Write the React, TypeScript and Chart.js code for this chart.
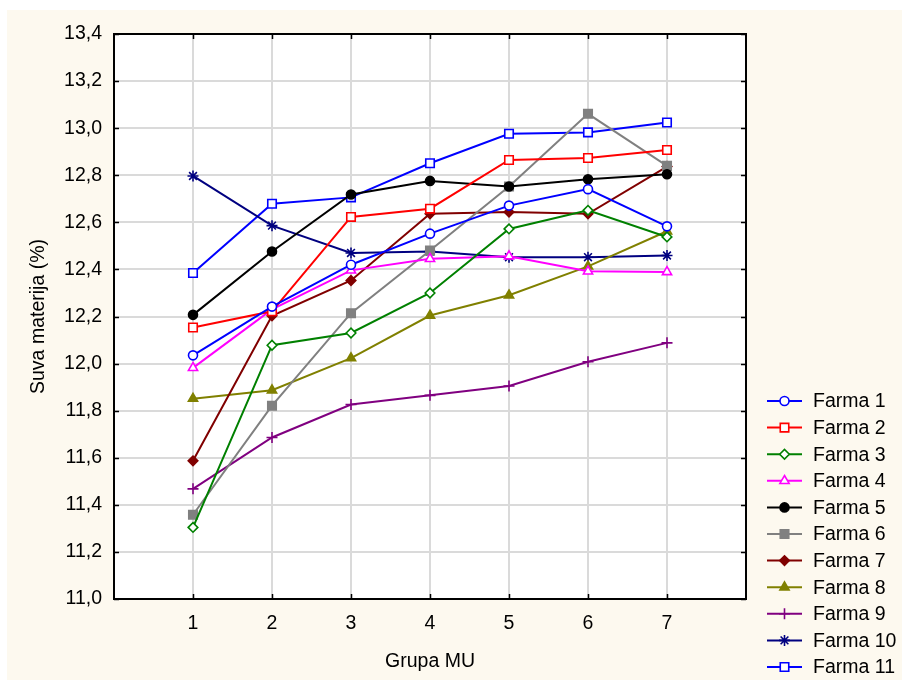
import React, { useEffect, useRef } from "react";
import { Chart, registerables } from "chart.js";
import { drawPoint } from "chart.js/helpers";

Chart.register(...registerables);

const groups = [1, 2, 3, 4, 5, 6, 7];
const farmNames = [
  "Farma 1", "Farma 2", "Farma 3", "Farma 4", "Farma 5", "Farma 6",
  "Farma 7", "Farma 8", "Farma 9", "Farma 10", "Farma 11",
];
const farma1 = [12.035, 12.242, 12.42, 12.552, 12.671, 12.741, 12.583];
const farma2 = [12.153, 12.222, 12.623, 12.658, 12.865, 12.873, 12.907];
const farma3 = [11.304, 12.078, 12.13, 12.3, 12.572, 12.651, 12.538];
const farma4 = [11.982, 12.23, 12.396, 12.445, 12.456, 12.392, 12.389];
const farma5 = [12.207, 12.476, 12.718, 12.776, 12.752, 12.783, 12.804];
const farma6 = [11.358, 11.821, 12.214, 12.48, 12.752, 13.061, 12.84];
const farma7 = [11.587, 12.203, 12.353, 12.636, 12.644, 12.636, 12.837];
const farma8 = [11.851, 11.887, 12.023, 12.204, 12.29, 12.413, 12.562];
const farma9 = [11.468, 11.686, 11.826, 11.865, 11.905, 12.008, 12.088];
const farma10 = [12.797, 12.586, 12.47, 12.476, 12.452, 12.452, 12.459];
const farma11 = [12.385, 12.679, 12.706, 12.851, 12.976, 12.982, 13.024];
const seriesValues = [farma1, farma2, farma3, farma4, farma5, farma6, farma7, farma8, farma9, farma10, farma11];

const styles = [
  { color: "#0000ff", point: "circle", r: 4.5, fill: "#ffffff" },
  { color: "#ff0000", point: "rect", r: 6, fill: "#ffffff" },
  { color: "#008000", point: "rectRot", r: 4.8, fill: "#ffffff" },
  { color: "#ff00ff", point: "triangle", r: 5.3, fill: "#ffffff" },
  { color: "#000000", point: "circle", r: 4.5, fill: "#000000" },
  { color: "#808080", point: "rect", r: 6, fill: "#808080" },
  { color: "#800000", point: "rectRot", r: 4.8, fill: "#800000" },
  { color: "#808000", point: "triangle", r: 5.3, fill: "#808000" },
  { color: "#800080", point: "cross", r: 5.5, fill: "#800080" },
  { color: "#000080", point: "star", r: 5.5, fill: "#000080" },
  { color: "#0000ff", point: "rect", r: 6, fill: "#ffffff" },
];

const FONT = "'Liberation Sans', Arial, sans-serif";

const backgroundPlugin = {
  id: "bgPlugin",
  beforeDraw(chart: any) {
    const { ctx, chartArea } = chart;
    ctx.save();
    ctx.fillStyle = "#ffffff";
    ctx.fillRect(0, 0, chart.width, chart.height);
    ctx.fillStyle = "#fdf9ef";
    ctx.fillRect(7, 10, chart.width - 7, chart.height - 10);
    ctx.fillStyle = "#ffffff";
    ctx.fillRect(chartArea.left, chartArea.top, chartArea.right - chartArea.left, chartArea.bottom - chartArea.top);
    ctx.restore();
  },
  afterDraw(chart: any) {
    const { ctx, chartArea } = chart;
    const { left, right, top, bottom } = chartArea;
    const xs = chart.scales.x;
    const ys = chart.scales.y;
    ctx.save();
    ctx.strokeStyle = "#000000";
    ctx.lineWidth = 1.5;
    ctx.beginPath();
    xs.ticks.forEach((t: any) => {
      const px = Math.round(xs.getPixelForValue(t.value)) + 0.5;
      ctx.moveTo(px, bottom);
      ctx.lineTo(px, bottom - 5);
      ctx.moveTo(px, top);
      ctx.lineTo(px, top + 5);
    });
    ys.ticks.forEach((t: any) => {
      const py = Math.round(ys.getPixelForValue(t.value)) + 0.5;
      ctx.moveTo(left, py);
      ctx.lineTo(left + 5, py);
      ctx.moveTo(right, py);
      ctx.lineTo(right - 5, py);
    });
    ctx.stroke();
    ctx.lineWidth = 2;
    ctx.strokeRect(left, top, right - left, bottom - top);

    // legend
    const lx0 = 767;
    const lx1 = 802;
    const ty = 401;
    const step = 26.6;
    ctx.font = `19.5px ${FONT}`;
    ctx.textBaseline = "middle";
    ctx.textAlign = "left";
    chart.data.datasets.forEach((ds: any, i: number) => {
      const y = ty + i * step;
      ctx.strokeStyle = ds.borderColor;
      ctx.lineWidth = ds.borderWidth;
      ctx.beginPath();
      ctx.moveTo(lx0, y);
      ctx.lineTo(lx1, y);
      ctx.stroke();
      ctx.fillStyle = ds.pointBackgroundColor;
      ctx.strokeStyle = ds.pointBorderColor;
      ctx.lineWidth = ds.pointBorderWidth;
      drawPoint(ctx, { pointStyle: ds.pointStyle, radius: ds.pointRadius, rotation: 0, borderWidth: ds.pointBorderWidth }, (lx0 + lx1) / 2, y);
      ctx.fillStyle = "#000000";
      ctx.fillText(ds.label, 813, y + 1);
    });
    ctx.restore();
  },
};

export default function App() {
  const canvasRef = useRef<HTMLCanvasElement | null>(null);

  useEffect(() => {
    if (!canvasRef.current) return;
    const datasets = seriesValues.map((vals, i) => ({
      label: farmNames[i],
      data: groups.map((g, j) => ({ x: g, y: vals[j] })),
      borderColor: styles[i].color,
      borderWidth: 2,
      pointStyle: styles[i].point,
      pointRadius: styles[i].r,
      pointBackgroundColor: styles[i].fill,
      pointBorderColor: styles[i].color,
      pointBorderWidth: 1.6,
      tension: 0,
      fill: false,
    }));
    const chart = new Chart(canvasRef.current, {
      type: "line",
      data: { datasets },
      plugins: [backgroundPlugin],
      options: {
        animation: false,
        responsive: false,
        devicePixelRatio: 1,
        layout: { padding: { left: 0, top: 34, right: 156, bottom: 0 } },
        plugins: { legend: { display: false }, tooltip: { enabled: false } },
        scales: {
          x: {
            type: "linear",
            min: 0,
            max: 8,
            afterBuildTicks: (scale: any) => {
              scale.ticks = groups.map((g) => ({ value: g }));
            },
            afterFit: (scale: any) => {
              scale.height = 81;
            },
            grid: { color: "#dadada", lineWidth: 2, drawTicks: false },
            border: { display: false },
            ticks: {
              padding: 13,
              color: "#000000",
              font: { family: FONT, size: 19.5 },
              callback: (v: any) => String(v),
            },
            title: {
              display: true,
              text: "Grupa MU",
              color: "#000000",
              font: { family: FONT, size: 19.5 },
              padding: { top: 0, bottom: 7 },
            },
          },
          y: {
            min: 11,
            max: 13.4,
            afterFit: (scale: any) => {
              scale.width = 114;
            },
            grid: { color: "#dadada", lineWidth: 2, drawTicks: false },
            border: { display: false },
            ticks: {
              stepSize: 0.2,
              padding: 12,
              color: "#000000",
              font: { family: FONT, size: 19.5 },
              callback: (v: any) => Number(v).toFixed(1).replace(".", ","),
            },
            title: {
              display: true,
              text: "Suva materija (%)",
              color: "#000000",
              font: { family: FONT, size: 19.5 },
              padding: { top: 27, bottom: 0 },
            },
          },
        },
      },
    });
    return () => chart.destroy();
  }, []);

  return (
    <div style={{ position: "fixed", left: 0, top: 0, width: 902, height: 680, background: "#ffffff" }}>
      <canvas ref={canvasRef} width={902} height={680} style={{ width: 902, height: 680, display: "block" }} />
    </div>
  );
}
